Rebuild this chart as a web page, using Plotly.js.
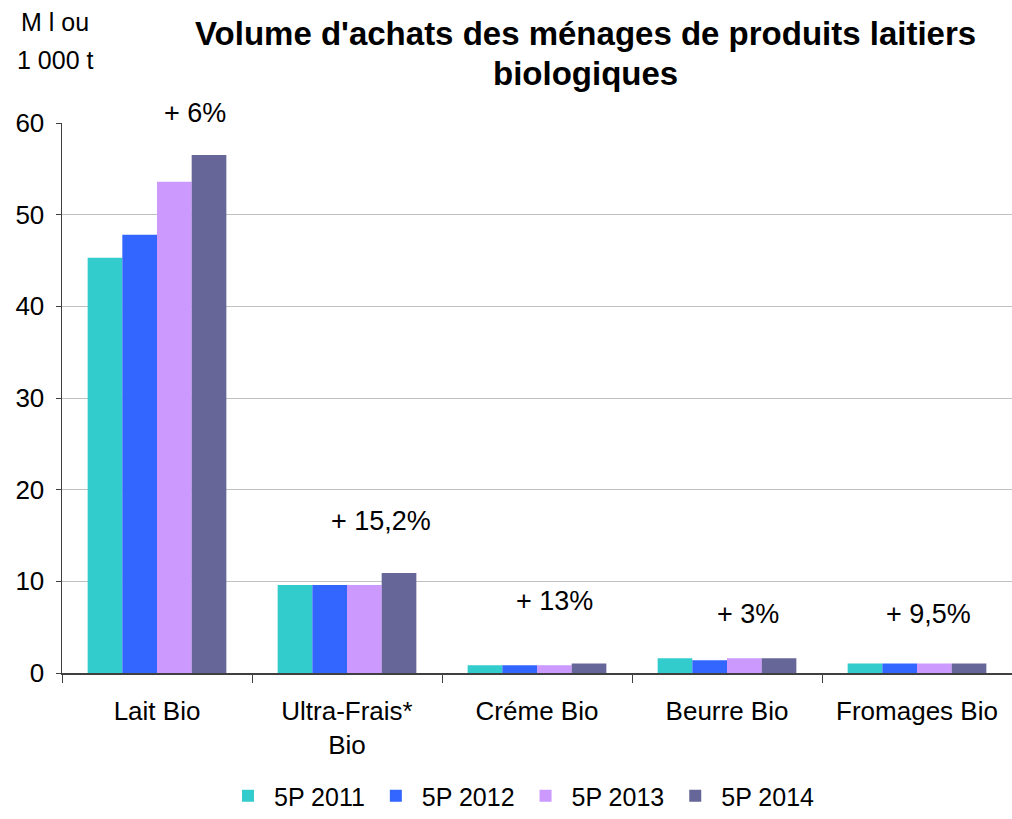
<!DOCTYPE html>
<html><head><meta charset="utf-8">
<script src="https://cdn.plot.ly/plotly-3.0.1.min.js"></script>
<style>body{margin:0;background:#fff}#chart{width:1012px;height:819px}</style>
</head><body><div id="chart"></div>
<script>
const categories = ["Lait Bio", "Ultra-Frais*<br>Bio", "Créme Bio", "Beurre Bio", "Fromages Bio"];
const seriesNames = ["5P 2011", "5P 2012", "5P 2013", "5P 2014"];
const v2011 = [45.3, 9.6, 0.84, 1.6, 1.05];
const v2012 = [47.8, 9.6, 0.84, 1.38, 1.05];
const v2013 = [53.6, 9.6, 0.84, 1.6, 1.05];
const v2014 = [56.5, 10.9, 1.05, 1.6, 1.05];
const growthLabels = ["+ 6%", "+ 15,2%", "+ 13%", "+ 3%", "+ 9,5%"];
const yTicks = [0, 10, 20, 30, 40, 50, 60];
const titleLines = ["Volume d'achats des ménages de produits laitiers", "biologiques"];
const unitLines = ["M l ou", "1 000 t"];

const colors = ["#33CCCC", "#3366FF", "#CC99FF", "#666699"];
const allVals = [v2011, v2012, v2013, v2014];
const traces = allVals.map((vals, i) => ({
  type: "bar", name: seriesNames[i], x: categories, y: vals,
  marker: {color: colors[i]}, hoverinfo: "none"
}));

// plot area: x 62..1012, y 123..673 (px)
const PT = 123, PH = 550, PL = 62, PW = 950;
const py = p => 1 + (PT - p) / PH;
const px = p => (p - PL) / PW;

const annPos = [[0.2, 113], [0.18, 521], [0.09, 601], [0.11, 614], [0.06, 614]];
const annotations = growthLabels.map((t, i) => ({
  text: t, xref: "x", yref: "paper", x: annPos[i][0] + i, y: py(annPos[i][1]),
  showarrow: false, font: {size: 27, color: "#000"}, xanchor: "center", yanchor: "middle"
}));
[33, 73].forEach((p, i) => annotations.push({
  text: "<b>" + titleLines[i] + "</b>", xref: "paper", yref: "paper", x: px(585), y: py(p),
  showarrow: false, font: {size: 33, color: "#000"}, xanchor: "center", yanchor: "middle"
}));
[22, 60].forEach((p, i) => annotations.push({
  text: unitLines[i], xref: "paper", yref: "paper", x: px(55), y: py(p),
  showarrow: false, font: {size: 25, color: "#000"}, xanchor: "center", yanchor: "middle"
}));

const layout = {
  width: 1012, height: 819,
  margin: {l: 62, r: 0, t: 123, b: 146},
  paper_bgcolor: "#fff", plot_bgcolor: "#fff",
  font: {family: "Liberation Sans, Arial, sans-serif", color: "#000", size: 26},
  barmode: "group", bargap: 0.27, bargroupgap: 0,
  xaxis: {type: "category", range: [-0.5, 4.5], showline: true, linecolor: "#404040", linewidth: 1.5,
          ticks: "outside", tickson: "boundaries", ticklen: 8, tickcolor: "#404040",
          tickfont: {size: 26}, showgrid: false, ticklabelstandoff: 14, automargin: false},
  yaxis: {range: [0, 60], tickvals: yTicks, showline: true, linecolor: "#404040", linewidth: 1.5,
          ticks: "outside", ticklen: 5, tickcolor: "#404040", gridcolor: "#c0c0c0", gridwidth: 1,
          zeroline: false, tickfont: {size: 26}, ticklabelstandoff: 6, automargin: false},
  legend: {orientation: "h", xref: "container", yref: "container", x: 222 / 1012, xanchor: "left",
           y: 0, yanchor: "bottom",
           font: {size: 25}, traceorder: "normal", itemwidth: 42},
  annotations: annotations,
  showlegend: true
};
Plotly.newPlot("chart", traces, layout, {displayModeBar: false, staticPlot: true});
</script></body></html>
